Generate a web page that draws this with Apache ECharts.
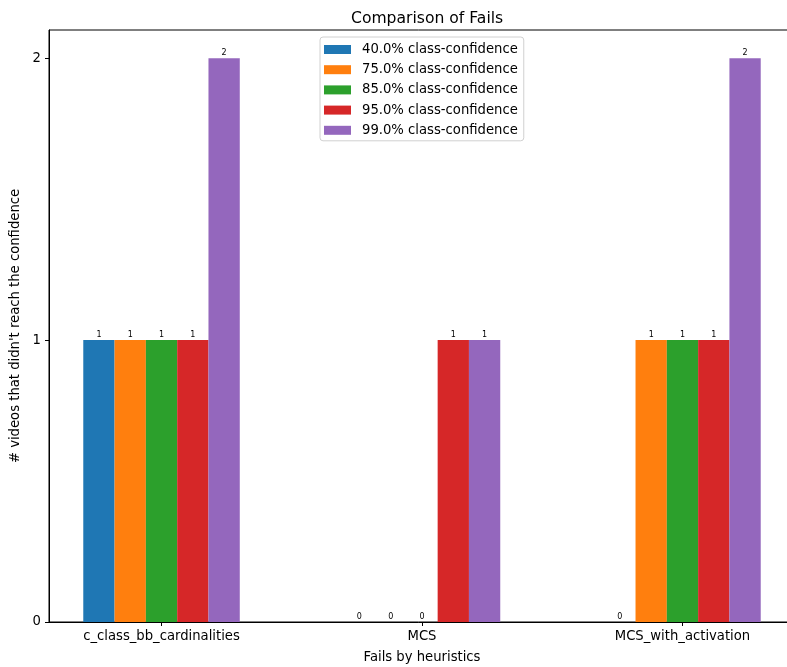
<!DOCTYPE html>
<html>
<head>
<meta charset="utf-8">
<script src="https://cdn.jsdelivr.net/npm/echarts@6/dist/echarts.min.js"></script>
<style>html,body{margin:0;padding:0;background:#fff}#c{width:787px;height:667px}</style>
</head>
<body>
<div id="c"></div>
<script>
const categories = ['c_class_bb_cardinalities', 'MCS', 'MCS_with_activation'];
const seriesNames = ['40.0% class-confidence', '75.0% class-confidence', '85.0% class-confidence', '95.0% class-confidence', '99.0% class-confidence'];
const fails40 = [1, 0, 0];
const fails75 = [1, 0, 1];
const fails85 = [1, 0, 1];
const fails95 = [1, 1, 1];
const fails99 = [2, 1, 2];
const yTicks = [0, 1, 2];
const colors = ['#1f77b4', '#ff7f0e', '#2ca02c', '#d62728', '#9467bd'];

const allValues = [fails40, fails75, fails85, fails95, fails99];
const font = 'DejaVu Sans';
const chart = echarts.init(document.getElementById('c'), null, {renderer: 'canvas'});
chart.setOption({
  animation: false,
  textStyle: {fontFamily: font},
  title: {
    text: 'Comparison of Fails',
    left: 346, top: 6,
    textStyle: {fontFamily: font, fontSize: 15.6, fontWeight: 'normal', color: '#000'}
  },
  legend: {
    orient: 'vertical',
    left: 320, top: 37,
    padding: [6, 6, 4, 4],
    itemWidth: 27, itemHeight: 9, itemGap: 7.2,
    icon: 'rect',
    backgroundColor: '#fff',
    borderColor: '#d0d0d0', borderWidth: 1, borderRadius: 3,
    textStyle: {fontFamily: font, fontSize: 13.2, color: '#000', lineHeight: 12, padding: [0, 0, 0, 6]},
    data: seriesNames
  },
  grid: {
    left: 49, right: -8, top: 30, bottom: 45,
    outerBoundsMode: 'none',
    containLabel: false,
    show: true, borderColor: '#000', borderWidth: 1, backgroundColor: 'transparent'
  },
  xAxis: {
    type: 'value',
    min: -0.432, max: 2.432,
    name: 'Fails by heuristics',
    nameLocation: 'middle', nameGap: 29,
    nameTextStyle: {fontFamily: font, fontSize: 13.2, color: '#000'},
    splitLine: {show: false},
    axisLine: {show: true, onZero: false, lineStyle: {color: '#000', width: 1}},
    axisTick: {show: true, customValues: [0, 1, 2], length: 4, lineStyle: {color: '#000'}},
    axisLabel: {
      customValues: [0, 1, 2], margin: 8,
      fontFamily: font, fontSize: 13.2, color: '#000',
      formatter: v => categories[Math.round(v)] || ''
    }
  },
  yAxis: {
    type: 'value',
    min: 0, max: 2.1,
    name: "# videos that didn't reach the confidence",
    nameLocation: 'middle', nameGap: 20,
    nameTextStyle: {fontFamily: font, fontSize: 13.2, color: '#000'},
    splitLine: {show: false},
    axisLine: {show: true, onZero: false, lineStyle: {color: '#000', width: 1}},
    axisTick: {show: true, customValues: yTicks, length: 4, lineStyle: {color: '#000'}},
    axisLabel: {customValues: yTicks, margin: 8, fontFamily: font, fontSize: 13.2, color: '#000'}
  },
  series: allValues.map((vals, i) => ({
    name: seriesNames[i],
    type: 'bar',
    barWidth: 31.3,
    barGap: '0%',
    itemStyle: {color: colors[i]},
    label: {show: true, position: 'top', distance: 1, fontFamily: font, fontSize: 8, color: '#000'},
    data: vals.map((v, j) => [j, v])
  }))
});
</script>
</body>
</html>
